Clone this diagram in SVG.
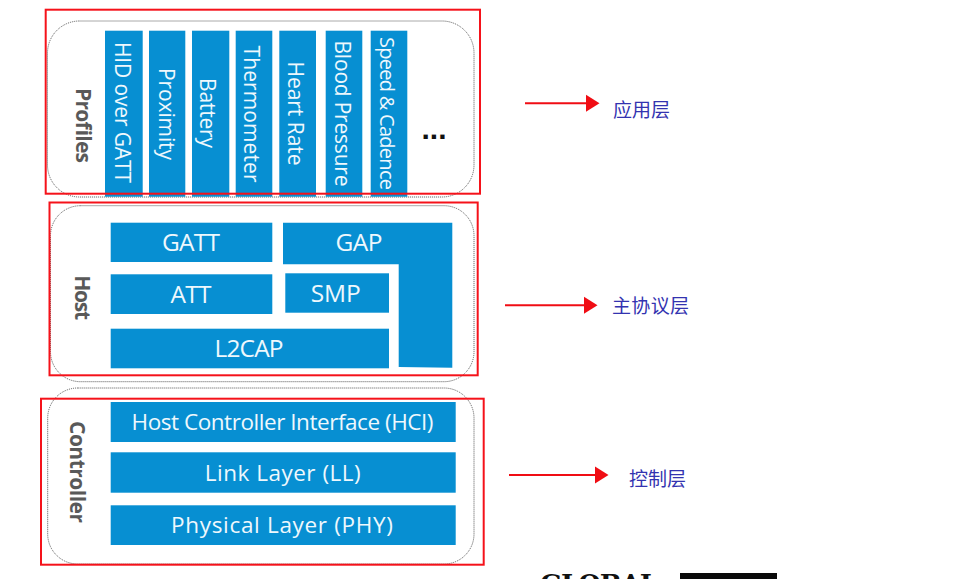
<svg xmlns="http://www.w3.org/2000/svg" width="969" height="579" viewBox="0 0 969 579">
<style>
.b{fill:#078fd2}
.w{font-family:"Open Sans","Noto Sans","Liberation Sans",sans-serif;fill:#eef8fd;text-anchor:middle}
.v{font-size:21px}
.h{font-size:24.500px}
.c{font-size:22.500px}
.s{font-family:"Open Sans","Liberation Sans",sans-serif;font-weight:700;font-size:21px;fill:#595959;text-anchor:middle}
.d{fill:none;stroke:#555;stroke-width:1;stroke-dasharray:1 1}
.r{fill:none;stroke:#f5121a;stroke-width:2}
.a{fill:none;stroke:#f00d14;stroke-width:2}
.z{font-family:"Noto Sans CJK SC",sans-serif;font-size:19px;fill:#3333b0}
</style>
<defs>
<marker id="ah" markerUnits="userSpaceOnUse" markerWidth="14" markerHeight="18" refX="0" refY="9" orient="auto"><path d="M0 0.5L13.5 9L0 17.5z" fill="#f00d14"/></marker>
</defs>
<rect width="969" height="579" fill="#fff"/>

<g id="profiles">
<rect class="d" x="47.5" y="21" width="426.500" height="176" rx="32"/>
<text class="s" transform="translate(75.500 125.500) rotate(90)" textLength="75">Profiles</text>
<g id="profile-hid"><rect class="b" x="105" y="30.700" width="37.700" height="166"/><text class="w v" transform="translate(115.300 112.500) rotate(90)" textLength="141">HID over GATT</text></g>
<g id="profile-proximity"><rect class="b" x="149" y="30.700" width="36.300" height="166"/><text class="w v" transform="translate(158.800 114) rotate(90)" textLength="92">Proximity</text></g>
<g id="profile-battery"><rect class="b" x="192" y="30.700" width="37.300" height="166"/><text class="w v" transform="translate(200.300 113) rotate(90)" textLength="70">Battery</text></g>
<g id="profile-thermometer"><rect class="b" x="235.700" y="30.700" width="36.600" height="166"/><text class="w v" transform="translate(244.300 114) rotate(90)" textLength="137">Thermometer</text></g>
<g id="profile-heart"><rect class="b" x="279.300" y="30.700" width="36.700" height="166"/><text class="w v" transform="translate(288.300 113.500) rotate(90)" textLength="104">Heart Rate</text></g>
<g id="profile-blood"><rect class="b" x="325.700" y="30.700" width="36.600" height="166"/><text class="w v" transform="translate(334.800 113.500) rotate(90)" textLength="146">Blood Pressure</text></g>
<g id="profile-speed"><rect class="b" x="370.700" y="30.700" width="36.600" height="166"/><text class="w" font-size="20" transform="translate(379.700 113.500) rotate(90)" textLength="153">Speed &amp; Cadence</text></g>
<text id="profile-more" x="434" y="138.500" text-anchor="middle" textLength="25" font-family="Liberation Sans,sans-serif" font-weight="700" font-size="30" fill="#111">...</text>
</g>

<g id="host">
<rect class="d" x="50.500" y="205.700" width="423.500" height="176" rx="30"/>
<text class="s" transform="translate(75 297.700) rotate(90)" textLength="45">Host</text>
<g id="host-gatt"><rect class="b" x="110.700" y="222.700" width="161.600" height="39.300"/><text class="w h" x="191" y="251" textLength="58">GATT</text></g>
<g id="host-gap"><path class="b" d="M283 222.700H452.300V367.700L398.700 367V264.300H283z"/><text class="w h" x="359" y="251" textLength="47">GAP</text></g>
<g id="host-att"><rect class="b" x="110.700" y="274.300" width="161.600" height="39.700"/><text class="w h" x="191" y="302.500" textLength="41">ATT</text></g>
<g id="host-smp"><rect class="b" x="285.300" y="273.300" width="103.700" height="39.400"/><text class="w h" x="335.700" y="302" textLength="50">SMP</text></g>
<g id="host-l2cap"><rect class="b" x="110.700" y="328.700" width="278.300" height="39.600"/><text class="w h" x="249" y="356.500" textLength="69">L2CAP</text></g>
</g>

<g id="controller">
<rect class="d" x="47.700" y="388" width="426.300" height="176" rx="30"/>
<text class="s" transform="translate(69.500 472) rotate(90)" textLength="102">Controller</text>
<g id="ctrl-hci"><rect class="b" x="110.700" y="402" width="345" height="40"/><text class="w c" x="282.500" y="430" textLength="302">Host Controller Interface (HCI)</text></g>
<g id="ctrl-ll"><rect class="b" x="110.700" y="452.300" width="345" height="40.400"/><text class="w c" x="282.700" y="481" textLength="156">Link Layer (LL)</text></g>
<g id="ctrl-phy"><rect class="b" x="110.700" y="505.300" width="345" height="39.700"/><text class="w c" x="282" y="533" textLength="222">Physical Layer (PHY)</text></g>
</g>

<g id="frames">
<rect class="r" x="45.700" y="9.700" width="434.300" height="184"/>
<rect class="r" x="49.500" y="202.500" width="428.200" height="172.800"/>
<rect class="r" x="41" y="398.700" width="442.700" height="166"/>
</g>

<g id="connectors">
<line class="a" x1="525" y1="103.300" x2="586" y2="103.300" marker-end="url(#ah)"/>
<line class="a" x1="505" y1="305.300" x2="584" y2="305.300" marker-end="url(#ah)"/>
<line class="a" x1="509" y1="475" x2="595" y2="475" marker-end="url(#ah)"/>
</g>

<g id="labels">
<text id="label-app" class="z" x="613" y="116.500" textLength="57">应用层</text>
<text id="label-host" class="z" x="612" y="313" textLength="77">主协议层</text>
<text id="label-ctrl" class="z" x="629" y="485.500" textLength="57">控制层</text>
</g>

<g id="logo">
<text x="540" y="592.500" textLength="118" font-family="DejaVu Serif,serif" font-weight="700" font-size="26" fill="#111">GLOBAL</text>
<rect x="680" y="573" width="97" height="6" fill="#0a0a0a"/>
</g>
</svg>
